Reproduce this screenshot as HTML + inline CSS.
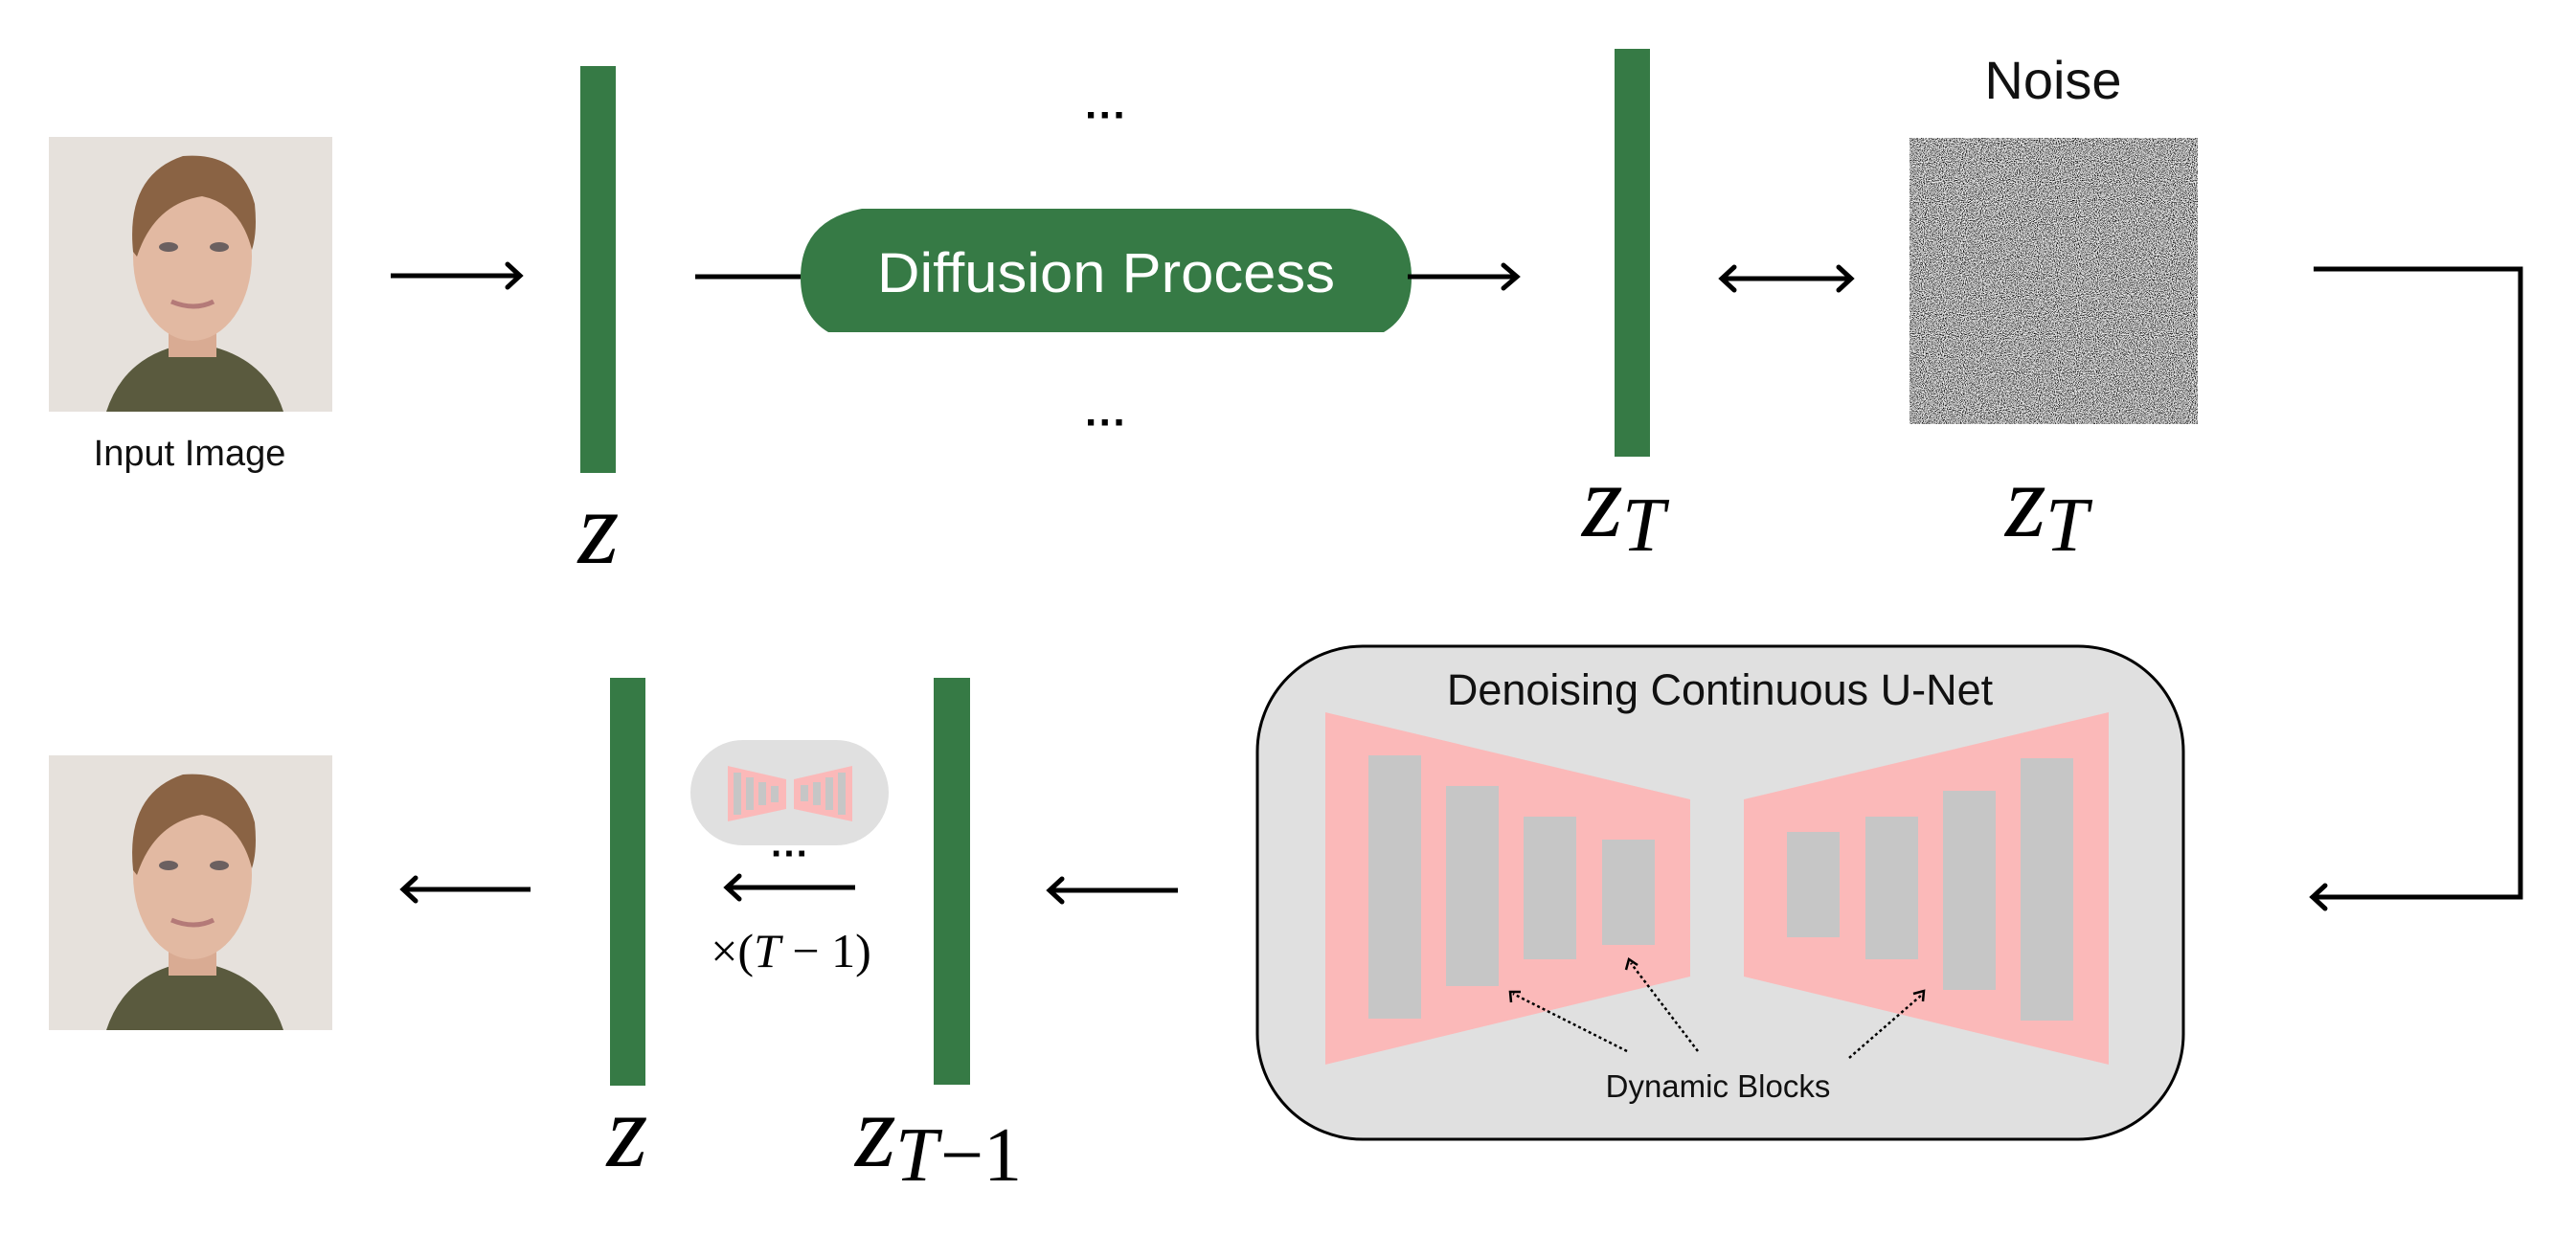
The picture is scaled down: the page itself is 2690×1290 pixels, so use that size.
<!DOCTYPE html>
<html><head><meta charset="utf-8"><style>html,body{margin:0;padding:0;background:#fff;}svg{display:block}</style></head>
<body>
<svg width="2690" height="1290" viewBox="0 0 2690 1290" xmlns="http://www.w3.org/2000/svg" font-family="Liberation Sans, sans-serif">
<defs>
<filter id="nz2" x="0" y="0" width="100%" height="100%">
<feTurbulence type="fractalNoise" baseFrequency="0.95" numOctaves="2" seed="5" result="t"/>
<feColorMatrix in="t" type="matrix" values="3 0 0 0 -1.05  3 0 0 0 -1.05  3 0 0 0 -1.05  0 0 0 0 1"/>
</filter>
<g id="face">
<rect x="0" y="0" width="296" height="287" fill="#e6e1dc"/>
<path d="M60 287 Q80 225 150 215 Q225 225 245 287 Z" fill="#5a5a3e"/>
<rect x="125" y="180" width="50" height="50" fill="#d9ab93"/>
<ellipse cx="150" cy="125" rx="62" ry="88" fill="#e2b9a2"/>
<path d="M88 120 Q80 40 140 20 Q200 15 215 70 Q218 100 212 118 Q200 70 160 62 Q110 70 92 125 Z" fill="#8a6344"/>
<ellipse cx="125" cy="115" rx="10" ry="5" fill="#6b6060"/>
<ellipse cx="178" cy="115" rx="10" ry="5" fill="#6b6060"/>
<path d="M128 172 Q152 182 172 172" stroke="#b47a78" stroke-width="5" fill="none"/>
</g>
</defs>

<use href="#face" x="51" y="143"/>
<text x="198" y="486" font-size="38" text-anchor="middle" fill="#111">Input Image</text>

<line x1="408" y1="288" x2="542" y2="288" stroke="#000" stroke-width="5"/>
<path d="M530 276 L543 288 L530 300" stroke="#000" stroke-width="5" fill="none" stroke-linecap="round"/>

<rect x="606" y="69" width="37" height="425" fill="#367a45"/>
<text x="625" y="588" font-size="110" font-style="italic" font-family="Liberation Serif, serif" text-anchor="middle">z</text>

<line x1="726" y1="289" x2="840" y2="289" stroke="#000" stroke-width="5"/>
<path d="M900 218 H1410 Q1474 230 1474 290 Q1474 330 1445 347 H865 Q836 330 836 290 Q836 230 900 218 Z" fill="#367a45"/>
<text x="1155" y="305" font-size="58" fill="#fff" text-anchor="middle" textLength="478" lengthAdjust="spacingAndGlyphs">Diffusion Process</text>
<text x="1155" y="135" font-size="44" text-anchor="middle" font-weight="bold">···</text>
<text x="1155" y="456" font-size="44" text-anchor="middle" font-weight="bold">···</text>
<line x1="1470" y1="289" x2="1583" y2="289" stroke="#000" stroke-width="5"/>
<path d="M1570 277 L1584 289 L1570 301" stroke="#000" stroke-width="5" fill="none" stroke-linecap="round"/>

<rect x="1686" y="51" width="37" height="426" fill="#367a45"/>
<text x="1652" y="560" font-size="110" font-style="italic" font-family="Liberation Serif, serif">z</text>
<text x="1694" y="575" font-size="80" font-style="italic" font-family="Liberation Serif, serif">T</text>

<line x1="1800" y1="291" x2="1931" y2="291" stroke="#000" stroke-width="5"/>
<path d="M1811 279 L1798 291 L1811 303" stroke="#000" stroke-width="5" fill="none" stroke-linecap="round"/>
<path d="M1920 279 L1933 291 L1920 303" stroke="#000" stroke-width="5" fill="none" stroke-linecap="round"/>

<text x="2144" y="103" font-size="56" text-anchor="middle" fill="#111">Noise</text>
<rect x="1994" y="144" width="301" height="299" fill="#777"/>
<rect x="1994" y="144" width="301" height="299" filter="url(#nz2)"/>
<text x="2094" y="560" font-size="110" font-style="italic" font-family="Liberation Serif, serif">z</text>
<text x="2136" y="575" font-size="80" font-style="italic" font-family="Liberation Serif, serif">T</text>

<path d="M2416 281 H2632 V937 H2418" stroke="#000" stroke-width="5" fill="none"/>
<path d="M2428 925 L2415 937 L2428 949" stroke="#000" stroke-width="5" fill="none" stroke-linecap="round"/>

<rect x="1313" y="675" width="967" height="515" rx="110" ry="110" fill="#e0e0e0" stroke="#000" stroke-width="3"/>
<text x="1796" y="736" font-size="45" text-anchor="middle" fill="#111">Denoising Continuous U-Net</text>
<polygon points="1384,744 1765,835 1765,1020 1384,1112" fill="#fbb9b9"/>
<polygon points="2202,744 1821,835 1821,1020 2202,1112" fill="#fbb9b9"/>
<g fill="#c6c6c6">
<rect x="1429" y="789" width="55" height="275"/>
<rect x="1510" y="821" width="55" height="209"/>
<rect x="1591" y="853" width="55" height="149"/>
<rect x="1673" y="877" width="55" height="110"/>
<rect x="1866" y="869" width="55" height="110"/>
<rect x="1948" y="853" width="55" height="149"/>
<rect x="2029" y="826" width="55" height="208"/>
<rect x="2110" y="792" width="55" height="274"/>
</g>
<g stroke="#000" stroke-width="2.5" stroke-dasharray="3,3" fill="none">
<line x1="1699" y1="1098" x2="1580" y2="1038"/>
<line x1="1773" y1="1098" x2="1703" y2="1006"/>
<line x1="1931" y1="1105" x2="2007" y2="1039"/>
</g>
<g stroke="#000" stroke-width="2.5" fill="none">
<path d="M1578 1047 L1577 1036 L1588 1036"/>
<path d="M1698 1013 L1701 1002 L1710 1008"/>
<path d="M1998 1038 L2009 1035 L2008 1046"/>
</g>
<text x="1794" y="1146" font-size="33" text-anchor="middle" fill="#111">Dynamic Blocks</text>

<line x1="1230" y1="930" x2="1097" y2="930" stroke="#000" stroke-width="5"/>
<path d="M1109 918 L1096 930 L1109 942" stroke="#000" stroke-width="5" fill="none" stroke-linecap="round"/>

<rect x="975" y="708" width="38" height="425" fill="#367a45"/>
<text x="893" y="1218" font-size="110" font-style="italic" font-family="Liberation Serif, serif">z</text>
<text x="935" y="1233" font-size="80" font-style="italic" font-family="Liberation Serif, serif">T</text>
<text x="982" y="1233" font-size="80" font-family="Liberation Serif, serif">−1</text>

<rect x="721" y="773" width="207" height="110" rx="55" ry="55" fill="#e0e0e0"/>
<polygon points="760,800 821,814 821,845 760,858" fill="#fbb9b9"/>
<polygon points="890,800 829,814 829,845 890,858" fill="#fbb9b9"/>
<g fill="#c6c6c6">
<rect x="766" y="807" width="8" height="44"/><rect x="779" y="812" width="8" height="34"/><rect x="792" y="817" width="8" height="24"/><rect x="805" y="821" width="8" height="17"/>
<rect x="836" y="820" width="8" height="17"/><rect x="849" y="817" width="8" height="24"/><rect x="862" y="812" width="8" height="34"/><rect x="875" y="807" width="8" height="44"/>
</g>
<text x="825" y="905" font-size="40" text-anchor="middle" font-weight="bold">···</text>
<line x1="893" y1="927" x2="760" y2="927" stroke="#000" stroke-width="5"/>
<path d="M772 915 L759 927 L772 939" stroke="#000" stroke-width="5" fill="none" stroke-linecap="round"/>
<text x="826" y="1010" font-size="50" text-anchor="middle" font-family="Liberation Serif, serif">×(<tspan font-style="italic">T</tspan> − 1)</text>

<rect x="637" y="708" width="37" height="426" fill="#367a45"/>
<text x="655" y="1218" font-size="110" font-style="italic" font-family="Liberation Serif, serif" text-anchor="middle">z</text>

<line x1="554" y1="929" x2="422" y2="929" stroke="#000" stroke-width="5"/>
<path d="M434 917 L421 929 L434 941" stroke="#000" stroke-width="5" fill="none" stroke-linecap="round"/>

<use href="#face" x="51" y="789"/>
</svg>
</body></html>
